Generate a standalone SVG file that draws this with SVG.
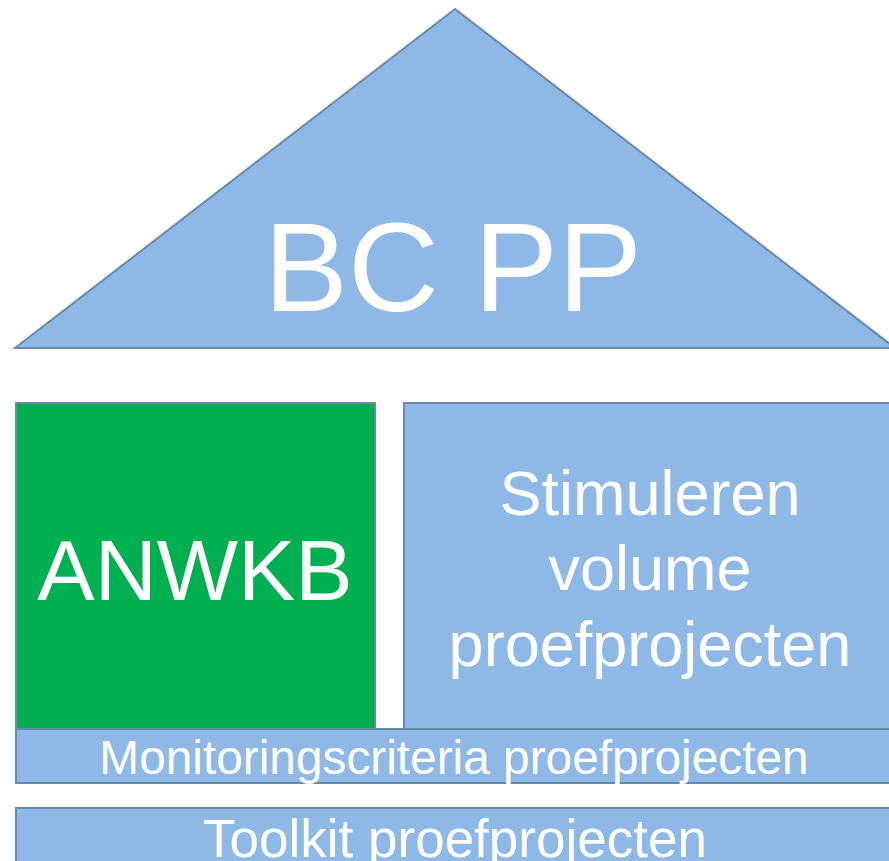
<svg xmlns="http://www.w3.org/2000/svg" width="889" height="861" viewBox="0 0 889 861">
<style>
.shape{fill:#8eb8e5;stroke:#6a89ab;stroke-width:2}
.green{fill:#00b050;stroke:#6a89ab;stroke-width:2}
text{font-family:"Liberation Sans",Arial,sans-serif;fill:#ffffff;text-anchor:middle}
</style>
<rect width="889" height="861" fill="#ffffff"/>
<g id="roof">
<polygon class="shape" points="455,9 15,348 895,348"/>
<text x="453" y="311" font-size="126">BC PP</text>
</g>
<g id="anwkb">
<rect class="green" x="16" y="403" width="359" height="326"/>
<text x="195" y="600" font-size="86">ANWKB</text>
</g>
<g id="stimuleren">
<rect class="shape" x="404" y="403" width="495" height="326"/>
<text x="650" y="515" font-size="63">Stimuleren</text>
<text x="650" y="590" font-size="63">volume</text>
<text x="650" y="666" font-size="63">proefprojecten</text>
</g>
<g id="monitoring">
<rect class="shape" x="16" y="729" width="883" height="54"/>
<text x="454" y="774" font-size="47.8">Monitoringscriteria proefprojecten</text>
</g>
<g id="toolkit">
<rect class="shape" x="16" y="808" width="883" height="70"/>
<text x="455" y="857" font-size="53">Toolkit proefprojecten</text>
</g>
<g id="connectors"></g>
</svg>
